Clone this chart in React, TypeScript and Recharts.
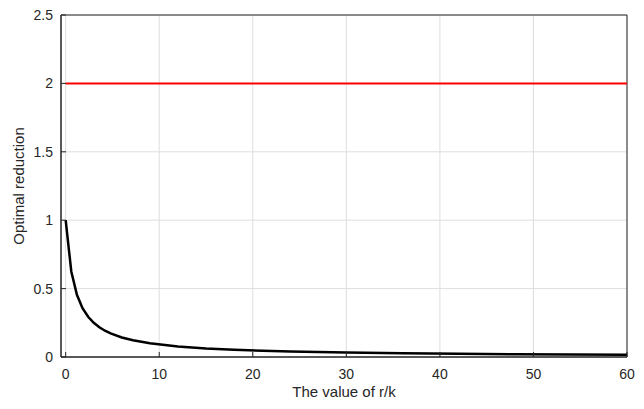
import { CartesianGrid, Line, LineChart, ReferenceArea, XAxis, YAxis } from 'recharts'

const R = [0, 0.6, 1.2, 1.8, 2.4, 3, 3.6, 4.2, 4.8, 6, 7.2, 9, 12, 15, 18, 24, 30, 36, 42, 48, 54, 60]
const REDUCTION = [
  1, 0.625, 0.455, 0.357, 0.294, 0.25, 0.217, 0.192, 0.172, 0.143, 0.122, 0.1, 0.077, 0.0625, 0.053, 0.04,
  0.032, 0.027, 0.023, 0.02, 0.018, 0.016,
]
const LIMIT = [2, 2]
const LIMIT_R = [0, 60]
const X_TICKS = [0, 10, 20, 30, 40, 50, 60]
const Y_TICKS = [0, 0.5, 1, 1.5, 2, 2.5]

const curve = R.map((r, i) => ({ r, v: REDUCTION[i] }))
const limit = LIMIT_R.map((r, i) => ({ r, v: LIMIT[i] }))

const FONT = 'Liberation Sans, Arial, sans-serif'
const tick = { fill: '#262626', fontSize: 14, fontFamily: FONT }

export default function App() {
  return (
    <div style={{ position: 'absolute', left: 0, top: 0, width: 644, height: 409, background: '#fff' }}>
      <LineChart width={644} height={409} margin={{ top: 15, right: 17, bottom: 22, left: 0 }}>
        <CartesianGrid stroke="#dedede" strokeWidth={1} />
        <XAxis
          dataKey="r"
          type="number"
          domain={[-0.5, 60]}
          ticks={X_TICKS}
          allowDataOverflow
          stroke="#262626"
          tickSize={-5}
          tickMargin={17}
          tick={tick}
          height={30}
          label={{ value: 'The value of r/k', position: 'insideBottom', offset: -10, fill: '#262626', fontSize: 15, fontFamily: FONT }}
        />
        <YAxis
          type="number"
          domain={[0, 2.5]}
          ticks={Y_TICKS}
          stroke="#262626"
          tickSize={-5}
          tickMargin={13}
          tick={tick}
          width={61}
          label={{ value: 'Optimal reduction', angle: -90, position: 'insideLeft', offset: 19, fill: '#262626', fontSize: 15, fontFamily: FONT, style: { textAnchor: 'middle' } }}
        />
        <ReferenceArea x1={-0.5} x2={60} y1={0} y2={2.5} fill="none" stroke="#262626" strokeWidth={1} ifOverflow="visible" />
        <Line data={limit} dataKey="v" type="linear" stroke="#ff0000" strokeWidth={2} dot={false} isAnimationActive={false} />
        <Line data={curve} dataKey="v" type="linear" stroke="#000" strokeWidth={2.5} dot={false} isAnimationActive={false} />
      </LineChart>
    </div>
  )
}
